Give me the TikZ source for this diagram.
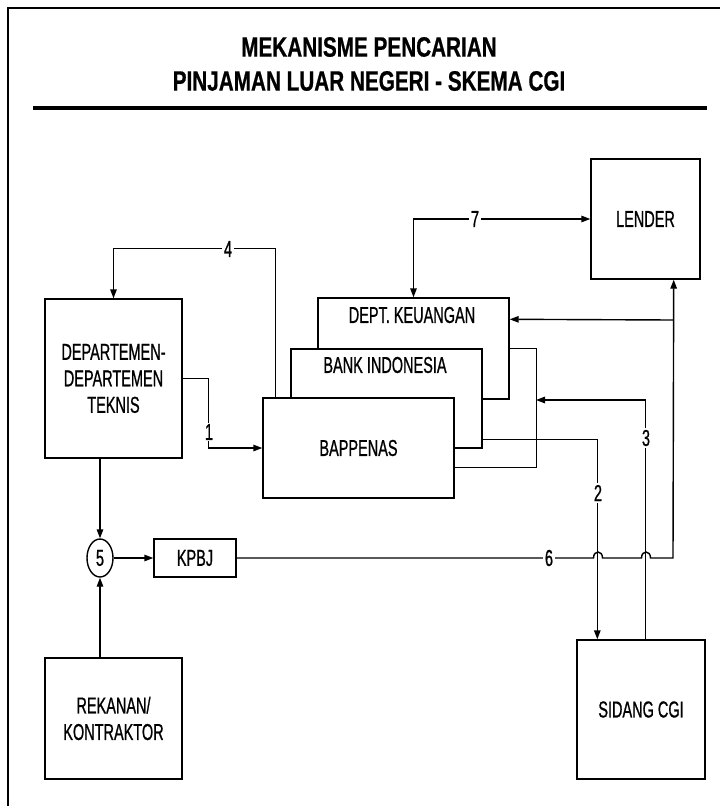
\documentclass[tikz,border=0pt]{standalone}
\usepackage{fontspec}
\setmainfont{Liberation Sans}
\newfontfamily\bodyf[FakeStretch=0.63,FakeBold=0.8]{Liberation Sans}
\newfontfamily\titlef[FakeStretch=0.74,FakeBold=0.6]{Liberation Sans Bold}
\usetikzlibrary{arrows.meta,shapes.geometric,calc}
\begin{document}
\begin{tikzpicture}[x=1pt,y=-1pt,
  box/.style={draw, line width=1.4pt, fill=white, inner sep=0pt, align=center,
    font=\bodyf\fontsize{23}{26.5}\selectfont},
  txt/.style={inner sep=0pt, align=center, font=\bodyf\fontsize{23}{26.5}\selectfont},
  conn/.style={line width=1.4pt},
  arr/.style={conn, -{Triangle[length=9pt,width=6.5pt]}},
  darr/.style={conn, {Triangle[length=9pt,width=6.5pt]}-{Triangle[length=9pt,width=6.5pt]}},
  lab/.style={fill=white, inner sep=1.5pt, font=\bodyf\fontsize{23}{23}\selectfont}]
\useasboundingbox (0,0) rectangle (720,806);
\fill[white] (0,0) rectangle (720,806);
% frame
\draw[line width=2.5pt] (8,806) -- (8,8) -- (720,8);
% title
\node[font=\titlef\fontsize{28}{34}\selectfont, align=center, inner sep=0pt] (title) at (369,64)
  {MEKANISME PENCARIAN\\PINJAMAN LUAR NEGERI - SKEMA CGI};
\coordinate (r1) at (33,108);
\coordinate (r2) at (707,108);
\draw[line width=4pt] (r1) -- (r2);
% boxes (back to front)
\node[box, minimum width=191pt, minimum height=101pt] (keu) at (413.5,348.5) {};
\node[txt] (keut) at (412,315) {DEPT. KEUANGAN};
\node[box, minimum width=191pt, minimum height=99pt] (bi) at (386.5,398.5) {};
\node[txt] (bit) at (385,365) {BANK INDONESIA};
\node[box, minimum width=191pt, minimum height=100pt] (bap) at (358.5,448) {BAPPENAS};
\node[box, minimum width=137pt, minimum height=159pt] (teknis) at (113.5,378.5)
  {DEPARTEMEN-\\DEPARTEMEN\\TEKNIS};
\node[box, minimum width=109pt, minimum height=120pt] (lender) at (645.5,219) {LENDER};
\node[box, minimum width=128pt, minimum height=139pt] (sidang) at (641,709.5) {SIDANG CGI};
\node[box, minimum width=137pt, minimum height=121pt] (rekanan) at (113.5,718.5)
  {REKANAN/\\KONTRAKTOR};
\node[box, minimum width=82pt, minimum height=38pt] (kpbj) at (195,558) {KPBJ};
\node[box, ellipse, minimum width=26pt, minimum height=38pt] (c5) at (100,558) {5};
% connectors
\draw[darr] (keu.north) |- (lender.west);
\draw[arr] ($(bap.north west)+(13,0)$) -- ++(0,-149) -| (teknis.north);
\draw[arr] ($(teknis.north east)+(0,80)$) -| ($(bap.west)+(-54,0)$) -- (bap.west);
\draw[conn] ($(keu.north east)+(0,51)$) -- ++(27,0) |- ($(bap.north east)+(0,70)$);
\draw[arr] ($(bi.north east)+(0,91)$) -| ($(sidang.north west)+(21,0)$);
\coordinate (bus3) at (536,400);
\draw[arr] ($(sidang.north west)+(69,0)$) |- (bus3);
\draw[arr] (kpbj.east) -- (593.5,558) .. controls (593.5,550) and (602.5,550) .. (602.5,558)
  -- (641.5,558) .. controls (641.5,550) and (650.5,550) .. (650.5,558)
  -- (673,558) -- ($(lender.south east)+(-27,0)$);
\coordinate (j6) at (673,320);
\draw[arr] (j6) -- ($(keu.north east)+(0,22)$);
\draw[arr] (teknis.south -| c5.north) -- (c5.north);
\draw[arr] (rekanan.north -| c5.south) -- (c5.south);
\draw[arr] (c5.east) -- (kpbj.west);
% labels
\node[lab] (l4) at (228,249) {4};
\node[lab] (l1) at (209,432) {1};
\node[lab] (l7) at (475,219) {7};
\node[lab] (l2) at (598,493) {2};
\node[lab] (l3) at (646,438) {3};
\node[lab] (l6) at (549,558) {6};
\end{tikzpicture}
\end{document}
